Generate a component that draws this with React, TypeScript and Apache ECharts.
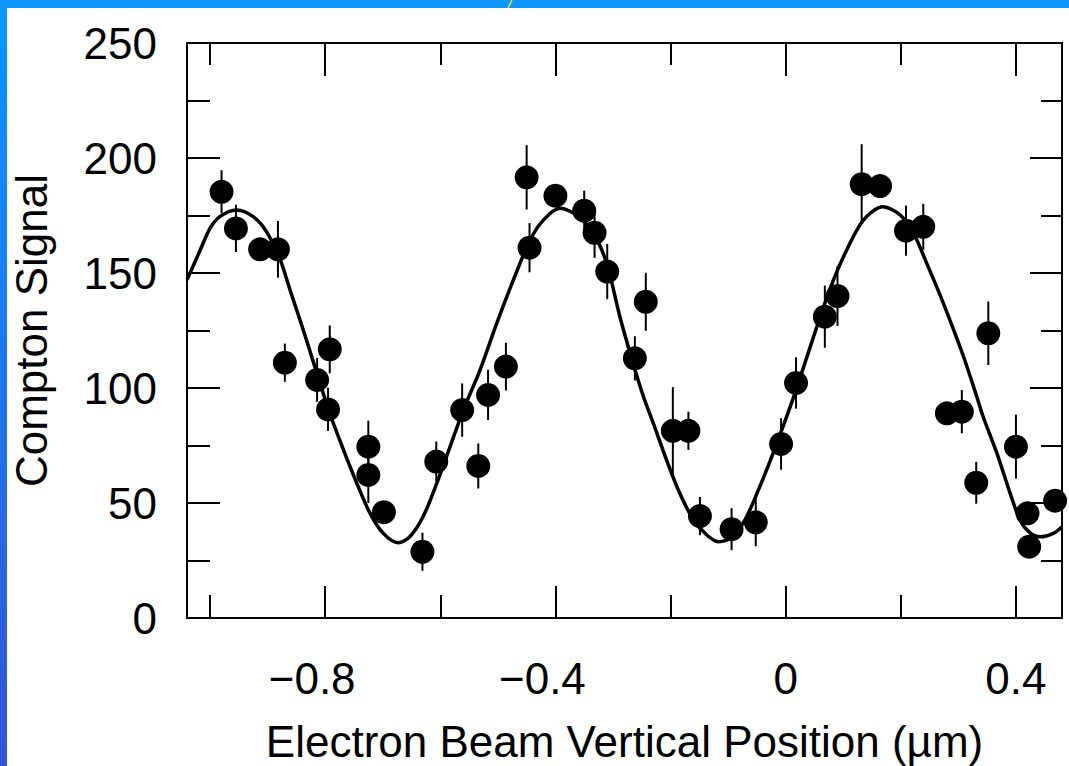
import React, { useEffect, useRef } from "react";
import * as echarts from "echarts";

// Fitted curve
const fitX = [-1.040, -1.017, -1.000, -0.983, -0.954, -0.925, -0.902, -0.878, -0.861, -0.838, -0.818, -0.792, -0.768, -0.745, -0.722, -0.699, -0.673, -0.653, -0.630, -0.606, -0.583, -0.560, -0.531, -0.502, -0.473, -0.444, -0.421, -0.392, -0.363, -0.334, -0.311, -0.288, -0.265, -0.247, -0.230, -0.207, -0.184, -0.160, -0.137, -0.117, -0.091, -0.068, -0.045, -0.022, 0.013, 0.037, 0.060, 0.083, 0.106, 0.135, 0.169, 0.199, 0.222, 0.245, 0.274, 0.309, 0.332, 0.343, 0.367, 0.390, 0.407, 0.424, 0.442, 0.465, 0.480];
const fitY = [147.0, 160.0, 169.4, 174.5, 177.4, 174.5, 168.0, 155.7, 142.6, 125.2, 109.3, 89.0, 73.0, 58.6, 45.5, 36.8, 32.7, 35.3, 44.0, 58.6, 74.5, 90.4, 107.8, 128.1, 147.0, 164.3, 173.0, 178.1, 175.2, 167.3, 154.2, 131.0, 110.7, 96.2, 84.7, 68.7, 54.2, 42.6, 36.1, 33.2, 35.3, 44.0, 57.1, 71.6, 95.5, 113.6, 131.0, 147.0, 160.0, 173.0, 178.8, 175.2, 167.3, 154.2, 136.8, 113.6, 96.2, 87.5, 71.6, 54.2, 42.6, 37.1, 35.3, 36.8, 39.7];

// Measured points with vertical error (half-length)
const ptX = [-0.980, -0.955, -0.913, -0.882, -0.870, -0.814, -0.795, -0.792, -0.725, -0.725, -0.698, -0.631, -0.607, -0.562, -0.534, -0.517, -0.486, -0.450, -0.445, -0.400, -0.350, -0.332, -0.310, -0.262, -0.243, -0.196, -0.169, -0.149, -0.094, -0.052, -0.008, 0.018, 0.068, 0.090, 0.132, 0.164, 0.209, 0.239, 0.280, 0.306, 0.331, 0.352, 0.400, 0.420, 0.423, 0.468];
const ptY = [185.3, 169.4, 160.3, 160.3, 111.0, 103.5, 90.7, 116.8, 74.5, 62.2, 46.0, 28.8, 68.0, 90.4, 66.1, 97.0, 109.3, 191.6, 161.0, 183.6, 177.1, 167.5, 150.6, 112.9, 137.5, 81.4, 81.4, 44.3, 38.6, 41.6, 75.7, 102.2, 131.0, 140.0, 188.6, 187.8, 168.4, 170.1, 89.0, 89.7, 58.8, 123.8, 74.5, 45.5, 31.0, 51.0];
const ptErr = [9.4, 10.3, 4, 12.3, 8.3, 9.6, 9.4, 10.4, 11.3, 12.2, 4, 8.3, 8.7, 11.6, 9.8, 10.9, 10.4, 14.0, 10.7, 4, 8.7, 10.9, 12.0, 9.6, 12.6, 19.0, 8.3, 8.3, 9.1, 10.4, 11.2, 11.2, 13.5, 13.0, 17.4, 4, 10.9, 10.0, 4, 9.4, 9.1, 13.8, 13.9, 4, 4, 4];

// Axis ticks
const xMajor = [-0.8, -0.4, 0, 0.4];
const xMinor = [-1.0, -0.6, -0.2, 0.2];
const xMin = -1.04;
const xMax = 0.48;
const yMin = 0;
const yMax = 250;
const yStep = 50;

const xTitle = "Electron Beam Vertical Position (\u00B5m)";
const yTitle = "Compton Signal";

const FONT = "'Liberation Sans', Arial, Helvetica, sans-serif";
const BLACK = "#000000";

export default function App() {
  const ref = useRef<HTMLDivElement>(null);

  useEffect(() => {
    if (!ref.current) return;
    const chart = echarts.init(ref.current, null, { renderer: "svg" });

    const axisLine = { show: true, onZero: false, lineStyle: { color: BLACK, width: 2 } };

    const xBase = (pos: string, ticks: number[], len: number, labels: boolean, named: boolean) => ({
      type: "value",
      position: pos,
      min: xMin,
      max: xMax,
      axisLine,
      axisTick: { show: true, inside: true, length: len, customValues: ticks, lineStyle: { color: BLACK, width: 2 } },
      axisLabel: labels
        ? {
            show: true,
            customValues: xMajor,
            margin: 38,
            fontSize: 44,
            fontFamily: FONT,
            color: BLACK,
            formatter: (v: number) => (v < 0 ? `{n|\u2212${Math.abs(v)}}` : `${v}`),
            rich: { n: { fontSize: 44, fontFamily: FONT, color: BLACK, padding: [0, 26, 0, 0] } },
          }
        : { show: false },
      splitLine: { show: false },
      ...(named
        ? {
            name: xTitle,
            nameLocation: "middle",
            nameGap: 101,
            nameTextStyle: { fontSize: 44, fontFamily: FONT, color: BLACK },
          }
        : {}),
    });

    const yBase = (pos: string, labels: boolean, major: number, minor: number) => ({
      type: "value",
      position: pos,
      min: yMin,
      max: yMax,
      interval: yStep,
      axisLine,
      axisTick: { show: true, inside: true, length: major, lineStyle: { color: BLACK, width: 2 } },
      minorTick: { show: true, splitNumber: 2, length: minor, lineStyle: { color: BLACK, width: 2 } },
      axisLabel: labels
        ? { show: true, margin: 30, fontSize: 44, fontFamily: FONT, color: BLACK }
        : { show: false },
      splitLine: { show: false },
      minorSplitLine: { show: false },
      ...(labels
        ? {
            name: yTitle,
            nameLocation: "middle",
            nameGap: 134,
            nameRotate: 90,
            nameTextStyle: { fontSize: 44, fontFamily: FONT, color: BLACK },
          }
        : {}),
    });

    const option: any = {
      animation: false,
      backgroundColor: "#ffffff",
      textStyle: { fontFamily: FONT },
      grid: {
        left: 187,
        top: 43,
        width: 875,
        height: 575,
        containLabel: false,
        outerBoundsMode: "none",
      },
      // order matters: ECharts flips a position that is already used
      xAxis: [
        xBase("bottom", xMajor, 32, true, true),
        xBase("top", xMajor, 33, false, false),
        xBase("bottom", xMinor, 23, false, false),
        xBase("top", xMinor, 22, false, false),
      ],
      yAxis: [yBase("left", true, 33, 23), yBase("right", false, 32, 21)],
      graphic: [
        { type: "rect", silent: true, shape: { x: 0, y: 0, width: 1069, height: 8 }, style: { fill: "#0c96fe" } },
        {
          type: "rect",
          silent: true,
          shape: { x: 0, y: 0, width: 7, height: 766 },
          style: {
            fill: {
              type: "linear",
              x: 0,
              y: 0,
              x2: 0,
              y2: 1,
              colorStops: [
                { offset: 0, color: "#0c96fe" },
                { offset: 1, color: "#3353dc" },
              ],
            },
          },
        },
        { type: "line", silent: true, shape: { x1: 512, y1: 0, x2: 508, y2: 8 }, style: { stroke: "#e8e800", lineWidth: 1.5 } },
      ],
      series: [
        {
          type: "line",
          name: "fit",
          xAxisIndex: 0,
          yAxisIndex: 0,
          data: fitX.map((x, i) => [x, fitY[i]]),
          showSymbol: false,
          smooth: 0.3,
          lineStyle: { color: BLACK, width: 3.5, opacity: 1 },
          z: 2,
        },
        {
          type: "custom",
          name: "error",
          xAxisIndex: 0,
          yAxisIndex: 0,
          data: ptX.map((x, i) => [x, ptY[i], ptErr[i]]),
          encode: { x: 0, y: 1 },
          renderItem: (params: any, api: any) => {
            const x = api.value(0);
            const y = api.value(1);
            const e = api.value(2);
            const p1 = api.coord([x, y + e]);
            const p2 = api.coord([x, y - e]);
            return {
              type: "line",
              shape: { x1: p1[0], y1: p1[1], x2: p2[0], y2: p2[1] },
              style: { stroke: BLACK, lineWidth: 2 },
            };
          },
          z: 3,
        },
        {
          type: "scatter",
          name: "data",
          xAxisIndex: 0,
          yAxisIndex: 0,
          data: ptX.map((x, i) => [x, ptY[i]]),
          symbol: "circle",
          symbolSize: 24,
          itemStyle: { color: BLACK, opacity: 1 },
          z: 4,
        },
      ],
    };

    chart.setOption(option);
    return () => chart.dispose();
  }, []);

  return (
    <div
      ref={ref}
      style={{ position: "absolute", left: 0, top: 0, width: 1069, height: 766, background: "#ffffff" }}
    />
  );
}
